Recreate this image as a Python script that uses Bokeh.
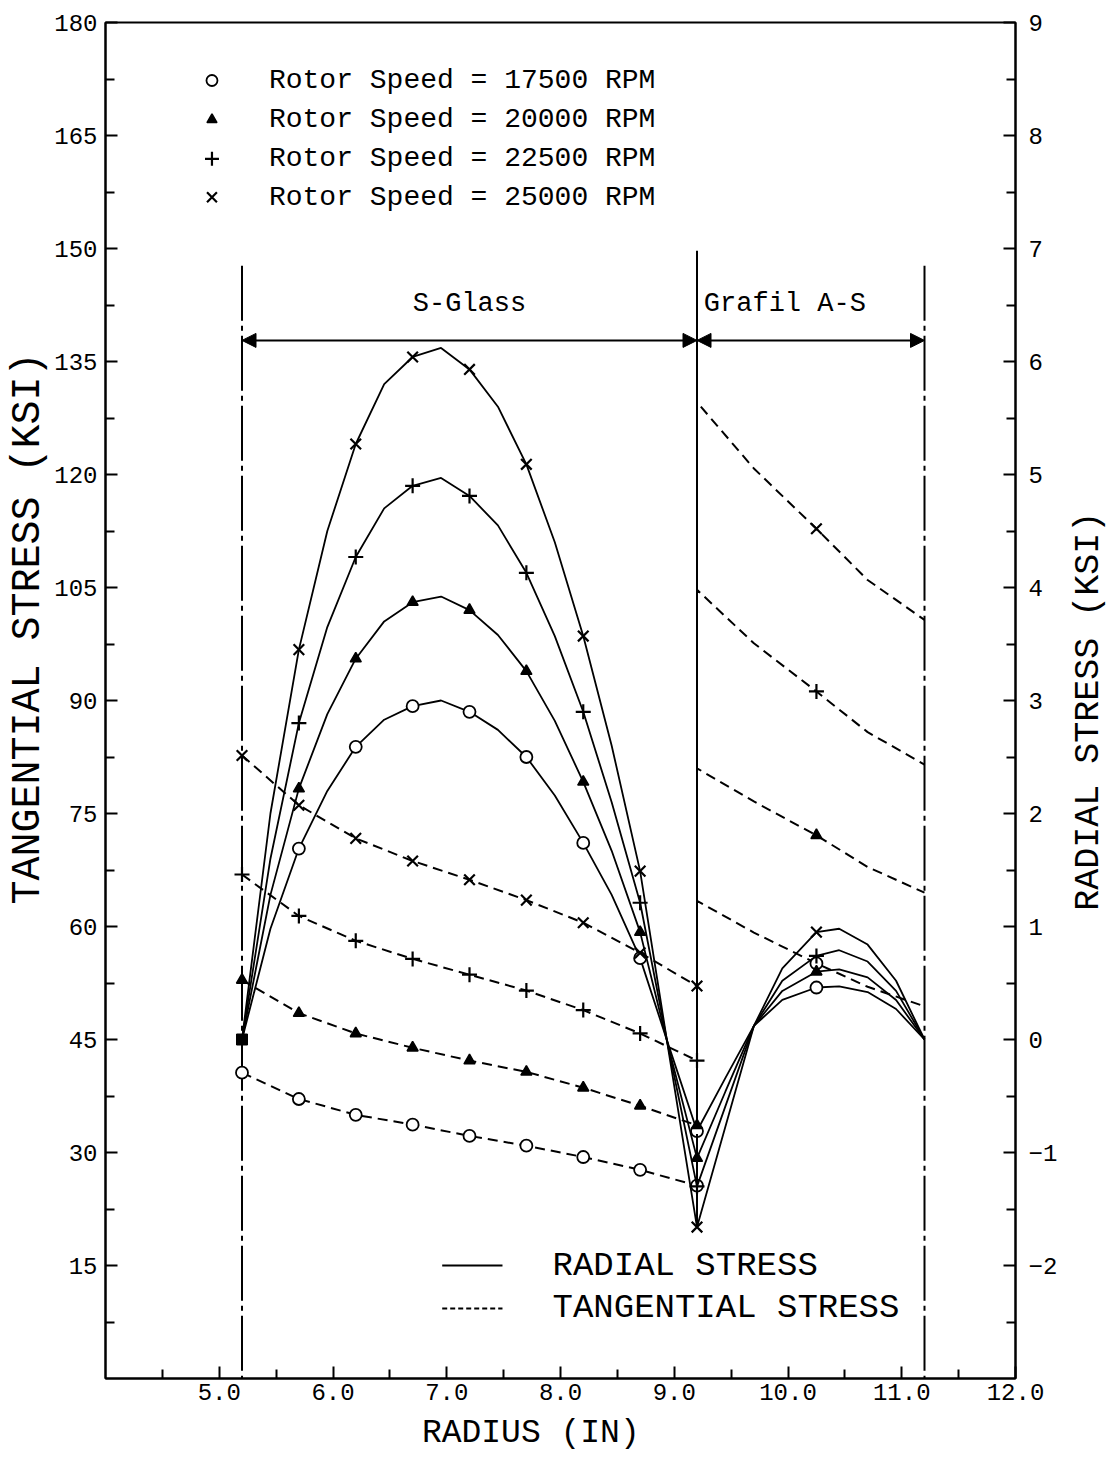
import math
from bokeh.plotting import figure
from bokeh.layouts import row
from bokeh.models import (Range1d, LinearAxis, FixedTicker, Arrow, NormalHead,
                          NumeralTickFormatter)
from bokeh.core.properties import value
from bokeh.embed import file_html
from bokeh.resources import INLINE

FONT = "Liberation Mono"
NB = "\u00a0"

# ---------------- data ----------------
speeds = [17500, 20000, 22500, 25000]
marker_types = ["circle", "triangle", "cross", "x"]

# S-Glass radial stress (KSI, right axis)
sg_x = [5.2, 5.45, 5.7, 5.95, 6.2, 6.45, 6.7, 6.95, 7.2, 7.45, 7.7, 7.95, 8.2, 8.45, 8.7, 8.95, 9.2]
sg_rad_17500 = [0.0, 0.98, 1.69, 2.20, 2.59, 2.83, 2.95, 3.00, 2.90, 2.74, 2.50, 2.16, 1.74, 1.28, 0.72, -0.05, -0.81]
sg_rad_20000 = [0.0, 1.28, 2.22, 2.88, 3.37, 3.70, 3.87, 3.92, 3.80, 3.58, 3.26, 2.82, 2.28, 1.67, 0.95, -0.07, -1.05]
sg_rad_22500 = [0.0, 1.60, 2.80, 3.65, 4.27, 4.70, 4.90, 4.97, 4.81, 4.55, 4.13, 3.57, 2.90, 2.10, 1.21, -0.08, -1.30]
sg_rad_25000 = [0.0, 2.00, 3.45, 4.50, 5.27, 5.80, 6.04, 6.12, 5.93, 5.60, 5.09, 4.40, 3.57, 2.60, 1.49, -0.10, -1.66]

# Grafil A-S radial stress (KSI, right axis)
gr_x = [9.2, 9.45, 9.7, 9.95, 10.25, 10.45, 10.7, 10.95, 11.2]
gr_rad_17500 = [-0.81, -0.34, 0.12, 0.35, 0.46, 0.47, 0.42, 0.27, 0.0]
gr_rad_20000 = [-1.05, -0.46, 0.12, 0.43, 0.60, 0.62, 0.55, 0.35, 0.0]
gr_rad_22500 = [-1.30, -0.59, 0.12, 0.52, 0.74, 0.79, 0.69, 0.43, 0.0]
gr_rad_25000 = [-1.66, -0.77, 0.12, 0.63, 0.95, 0.98, 0.84, 0.52, 0.0]

# S-Glass tangential stress (KSI, left axis)
sg_tan_x = [5.2, 5.7, 6.2, 6.7, 7.2, 7.7, 8.2, 8.7, 9.2]
sg_tan_17500 = [40.6, 37.1, 35.0, 33.7, 32.2, 30.9, 29.4, 27.7, 25.6]
sg_tan_20000 = [52.9, 48.5, 45.8, 43.9, 42.2, 40.7, 38.6, 36.2, 33.6]
sg_tan_22500 = [66.9, 61.4, 58.1, 55.7, 53.6, 51.5, 48.9, 45.8, 42.2]
sg_tan_25000 = [82.7, 76.1, 71.7, 68.7, 66.2, 63.5, 60.5, 56.5, 52.1]

# Grafil A-S tangential stress (KSI, left axis)
gr_tan_x = [9.2, 9.7, 10.25, 10.7, 11.2]
gr_tan_17500 = [63.4, 59.2, 55.1, 52.0, 49.4]
gr_tan_20000 = [81.0, 76.6, 72.1, 67.9, 64.5]
gr_tan_22500 = [104.7, 97.6, 91.2, 85.8, 81.5]
gr_tan_25000 = [129.6, 120.8, 112.8, 106.0, 100.7]

origin_x = [5.2]
origin_r = [0.0]

boundary_x = [5.2, 9.2, 11.2]
region_names = ["S-Glass", "Grafil A-S"]

x_ticks = [5, 6, 7, 8, 9, 10, 11, 12]
left_ticks = [15, 30, 45, 60, 75, 90, 105, 120, 135, 150, 165, 180]
right_ticks = [-2, -1, 0, 1, 2, 3, 4, 5, 6, 7, 8, 9]

sg_rad = [sg_rad_17500, sg_rad_20000, sg_rad_22500, sg_rad_25000]
gr_rad = [gr_rad_17500, gr_rad_20000, gr_rad_22500, gr_rad_25000]
sg_tan = [sg_tan_17500, sg_tan_20000, sg_tan_22500, sg_tan_25000]
gr_tan = [gr_tan_17500, gr_tan_20000, gr_tan_22500, gr_tan_25000]

# ---------------- main figure ----------------
W_MAIN = 1060
p = figure(width=W_MAIN, height=1461, output_backend="svg", toolbar_location=None,
           x_range=Range1d(4, 12), y_range=Range1d(0, 180),
           min_border_left=105, min_border_right=W_MAIN - 1015, min_border_top=22,
           min_border_bottom=83)
p.extra_y_ranges = {"radial": Range1d(-3, 9)}
p.xgrid.visible = False
p.ygrid.visible = False
p.outline_line_color = "black"
p.outline_line_width = 2
p.background_fill_color = "white"
p.border_fill_color = "white"

def style_axis(ax, size="24px"):
    ax.axis_line_width = 2
    ax.axis_line_color = "black"
    ax.major_tick_in = 12
    ax.major_tick_out = 0
    ax.minor_tick_in = 9
    ax.minor_tick_out = 0
    ax.major_tick_line_width = 2
    ax.minor_tick_line_width = 2
    ax.major_label_text_font = FONT
    ax.major_label_text_font_size = size
    ax.major_label_text_color = "black"
    ax.axis_label_text_font = FONT
    ax.axis_label_text_font_style = "normal"
    ax.axis_label_text_color = "black"

xa = p.xaxis[0]
xa.ticker = FixedTicker(ticks=x_ticks, minor_ticks=[t - 0.5 for t in x_ticks] + [t + 0.5 for t in x_ticks[:-1]])
xa.formatter = NumeralTickFormatter(format="0.0")
style_axis(xa)
xa.major_label_standoff = 5
xa.axis_label = "RADIUS (IN)" + NB * 3
xa.axis_label_text_font_size = "33px"
xa.axis_label_standoff = 12

ya = p.yaxis[0]
ya.ticker = FixedTicker(ticks=left_ticks, minor_ticks=[t - 7.5 for t in left_ticks])
style_axis(ya)
ya.major_label_standoff = 8
ya.axis_label = NB * 6 + "TANGENTIAL STRESS (KSI)"
ya.axis_label_text_font_size = "40px"
ya.axis_label_standoff = 0

ra = LinearAxis(y_range_name="radial")
ra.ticker = FixedTicker(ticks=right_ticks, minor_ticks=[t - 0.5 for t in right_ticks] + [t + 0.5 for t in right_ticks[:-1]])
style_axis(ra)
ra.major_label_standoff = 13
p.add_layout(ra, "right")

# region boundaries
p.line([boundary_x[0], boundary_x[0]], [147.7, 0], line_color="black", line_width=2, line_dash="55 5 5 5")
p.line([boundary_x[1], boundary_x[1]], [149.7, 20.1], line_color="black", line_width=2)
p.line([boundary_x[2], boundary_x[2]], [147.7, 0], line_color="black", line_width=2, line_dash="55 5 5 5")

for xs, xe in [(boundary_x[0], boundary_x[1]), (boundary_x[1], boundary_x[2])]:
    p.add_layout(Arrow(x_start=xs, x_end=xe, y_start=137.8, y_end=137.8, line_width=2,
                       line_color="black",
                       start=NormalHead(size=14, fill_color="black", line_color="black"),
                       end=NormalHead(size=14, fill_color="black", line_color="black")))

p.text(x=[(boundary_x[0] + boundary_x[1]) / 2], y=[140.6], text=[region_names[0]],
       text_font=value(FONT), text_font_size=value("27px"), text_align="center",
       text_baseline="bottom", text_color="black")
p.text(x=[boundary_x[1] + 0.06], y=[140.6], text=[region_names[1]],
       text_font=value(FONT), text_font_size=value("27px"), text_align="left",
       text_baseline="bottom", text_color="black")

def mstyle(m):
    if m == "circle":
        return dict(size=12, fill_color="white", line_color="black", line_width=1.8)
    if m == "triangle":
        return dict(size=11, fill_color="black", line_color="black", line_width=1.5)
    return dict(size=15, fill_color=None, line_color="black", line_width=2.2)

for i, m in enumerate(marker_types):
    # radial (solid, right axis)
    rx = sg_x + gr_x[1:]
    ry = sg_rad[i] + gr_rad[i][1:]
    p.line(rx, ry, y_range_name="radial", line_color="black", line_width=1.8)
    mx = sg_x[2::2] + [gr_x[4]]
    my = sg_rad[i][2::2] + [gr_rad[i][4]]
    p.scatter(mx, my, y_range_name="radial", marker=m, **mstyle(m))
    # tangential (dashed, left axis)
    tx = sg_tan_x + gr_tan_x
    ty = sg_tan[i] + gr_tan[i]
    p.line(tx, ty, line_color="black", line_width=2, line_dash="10 6")
    p.scatter(sg_tan_x + [gr_tan_x[2]], sg_tan[i] + [gr_tan[i][2]], marker=m, **mstyle(m))

p.scatter(origin_x, origin_r, y_range_name="radial", marker="square", size=11,
          fill_color="black", line_color="black")

# top legend (speeds)
leg_rows = [172.3, 167.1, 161.9, 156.8]
for i, m in enumerate(marker_types):
    st = mstyle(m)
    st["size"] = st["size"] - 1
    p.scatter([4.936], [leg_rows[i]], marker=m, **st)
    p.text(x=[5.437], y=[leg_rows[i]], text=["Rotor Speed = %d RPM" % speeds[i]],
           text_font=value(FONT), text_font_size=value("28px"), text_align="left",
           text_baseline="middle", text_color="black")

# bottom legend (line styles)
p.line([6.96, 7.49], [15.0, 15.0], line_color="black", line_width=2)
p.line([6.96, 7.49], [9.3, 9.3], line_color="black", line_width=2, line_dash="5 3")
p.text(x=[7.93, 7.93], y=[15.0, 9.3], text=["RADIAL STRESS", "TANGENTIAL STRESS"],
       text_font=value(FONT), text_font_size=value("34px"), text_align="left",
       text_baseline="middle", text_color="black")

# ---------------- right title strip ----------------
W_STRIP = 1114 - W_MAIN
q = figure(width=W_STRIP, height=1461, output_backend="svg", toolbar_location=None,
           x_range=Range1d(0, W_STRIP), y_range=Range1d(0, 1461),
           x_axis_type=None, y_axis_type=None, min_border=0)
q.xgrid.visible = False
q.ygrid.visible = False
q.outline_line_color = None
q.background_fill_color = "white"
q.border_fill_color = "white"
q.text(x=[1088 - W_MAIN], y=[1461 - 742], text=["RADIAL STRESS (KSI)"], angle=math.pi / 2,
       text_font=value(FONT), text_font_size=value("35px"), text_align="center",
       text_baseline="middle", text_color="black")

layout = row(p, q, spacing=0)
open("out.html", "w").write(file_html(layout, INLINE))
